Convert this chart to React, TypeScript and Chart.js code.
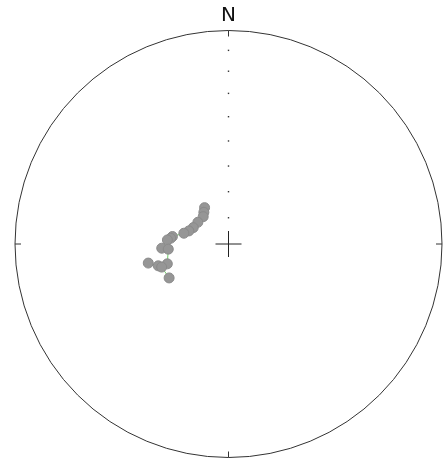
import React, { useEffect, useRef } from "react";
import { Chart, registerables } from "chart.js";

Chart.register(...registerables);

// Measurements (trend / plunge, degrees), in path order
const trends = [326.7, 322.2, 317.3, 305.4, 295.0, 288.3, 283.6, 277.6, 275.7, 273.8, 266.4, 265.1, 252.0, 252.7, 256.6, 250.9, 240.2];
const plunges = [73.4, 74.7, 75.8, 75.7, 75.2, 74.1, 72.5, 68.4, 67.8, 66.6, 64.4, 66.9, 65.4, 61.8, 58.3, 62.9, 63.8];
// Reference dots along the north axis
const gridPlunges = [10, 20, 30, 40, 50, 60, 70, 80];
const northLabel = "N";

function project(trend: number, plunge: number) {
  const r = Math.SQRT2 * Math.sin((((90 - plunge) / 2) * Math.PI) / 180);
  const t = (trend * Math.PI) / 180;
  return { x: r * Math.sin(t), y: r * Math.cos(t) };
}

const netPlugin = {
  id: "net",
  afterDatasetsDraw(chart: any) {
    const { ctx, scales } = chart;
    const xs = scales.x;
    const ys = scales.y;
    const cx = xs.getPixelForValue(0);
    const cy = ys.getPixelForValue(0);
    const R = xs.getPixelForValue(1) - cx;
    ctx.save();
    ctx.strokeStyle = "#333";
    ctx.lineWidth = 1;
    ctx.beginPath();
    ctx.arc(cx, cy, R, 0, Math.PI * 2);
    ctx.stroke();
    const tick = 6;
    ctx.beginPath();
    ctx.moveTo(cx, cy - R);
    ctx.lineTo(cx, cy - R + tick);
    ctx.moveTo(cx, cy + R);
    ctx.lineTo(cx, cy + R - tick);
    ctx.moveTo(cx - R, cy);
    ctx.lineTo(cx - R + tick, cy);
    ctx.moveTo(cx + R, cy);
    ctx.lineTo(cx + R - tick, cy);
    ctx.stroke();
    ctx.strokeStyle = "#222";
    const c = 13;
    ctx.beginPath();
    ctx.moveTo(cx - c, cy);
    ctx.lineTo(cx + c, cy);
    ctx.moveTo(cx, cy - c);
    ctx.lineTo(cx, cy + c);
    ctx.stroke();
    ctx.fillStyle = "#111";
    ctx.font = "20px 'DejaVu Sans'";
    ctx.textAlign = "center";
    ctx.textBaseline = "alphabetic";
    ctx.fillText(northLabel, cx, cy - R - 9.5);
    ctx.restore();
  },
};

export default function App() {
  const ref = useRef<HTMLCanvasElement>(null);
  useEffect(() => {
    document.body.style.margin = "0";
    const pts = trends.map((t, i) => project(t, plunges[i]));
    const grid = gridPlunges.map((p) => project(0, p));
    const chart = new Chart(ref.current!, {
      type: "scatter",
      data: {
        datasets: [
          {
            data: grid,
            pointStyle: "rect",
            pointRadius: 1,
            backgroundColor: "#333",
            borderWidth: 0,
            clip: false,
          },
          {
            data: pts,
            showLine: true,
            borderColor: "rgb(110,205,100)",
            borderWidth: 1,
            pointRadius: 5,
            pointBackgroundColor: "rgb(150,150,150)",
            pointBorderColor: "rgb(138,138,138)",
            pointBorderWidth: 1,
            clip: false,
          } as any,
        ],
      },
      options: {
        animation: false,
        responsive: false,
        layout: { padding: { left: 15, right: 4, top: 31, bottom: 3 } },
        plugins: { legend: { display: false }, tooltip: { enabled: false } },
        scales: {
          x: { type: "linear", min: -1, max: 1, display: false },
          y: { type: "linear", min: -1, max: 1, display: false },
        },
      },
      plugins: [netPlugin],
    });
    return () => chart.destroy();
  }, []);
  return <canvas ref={ref} width={448} height={463} style={{ display: "block" }} />;
}
